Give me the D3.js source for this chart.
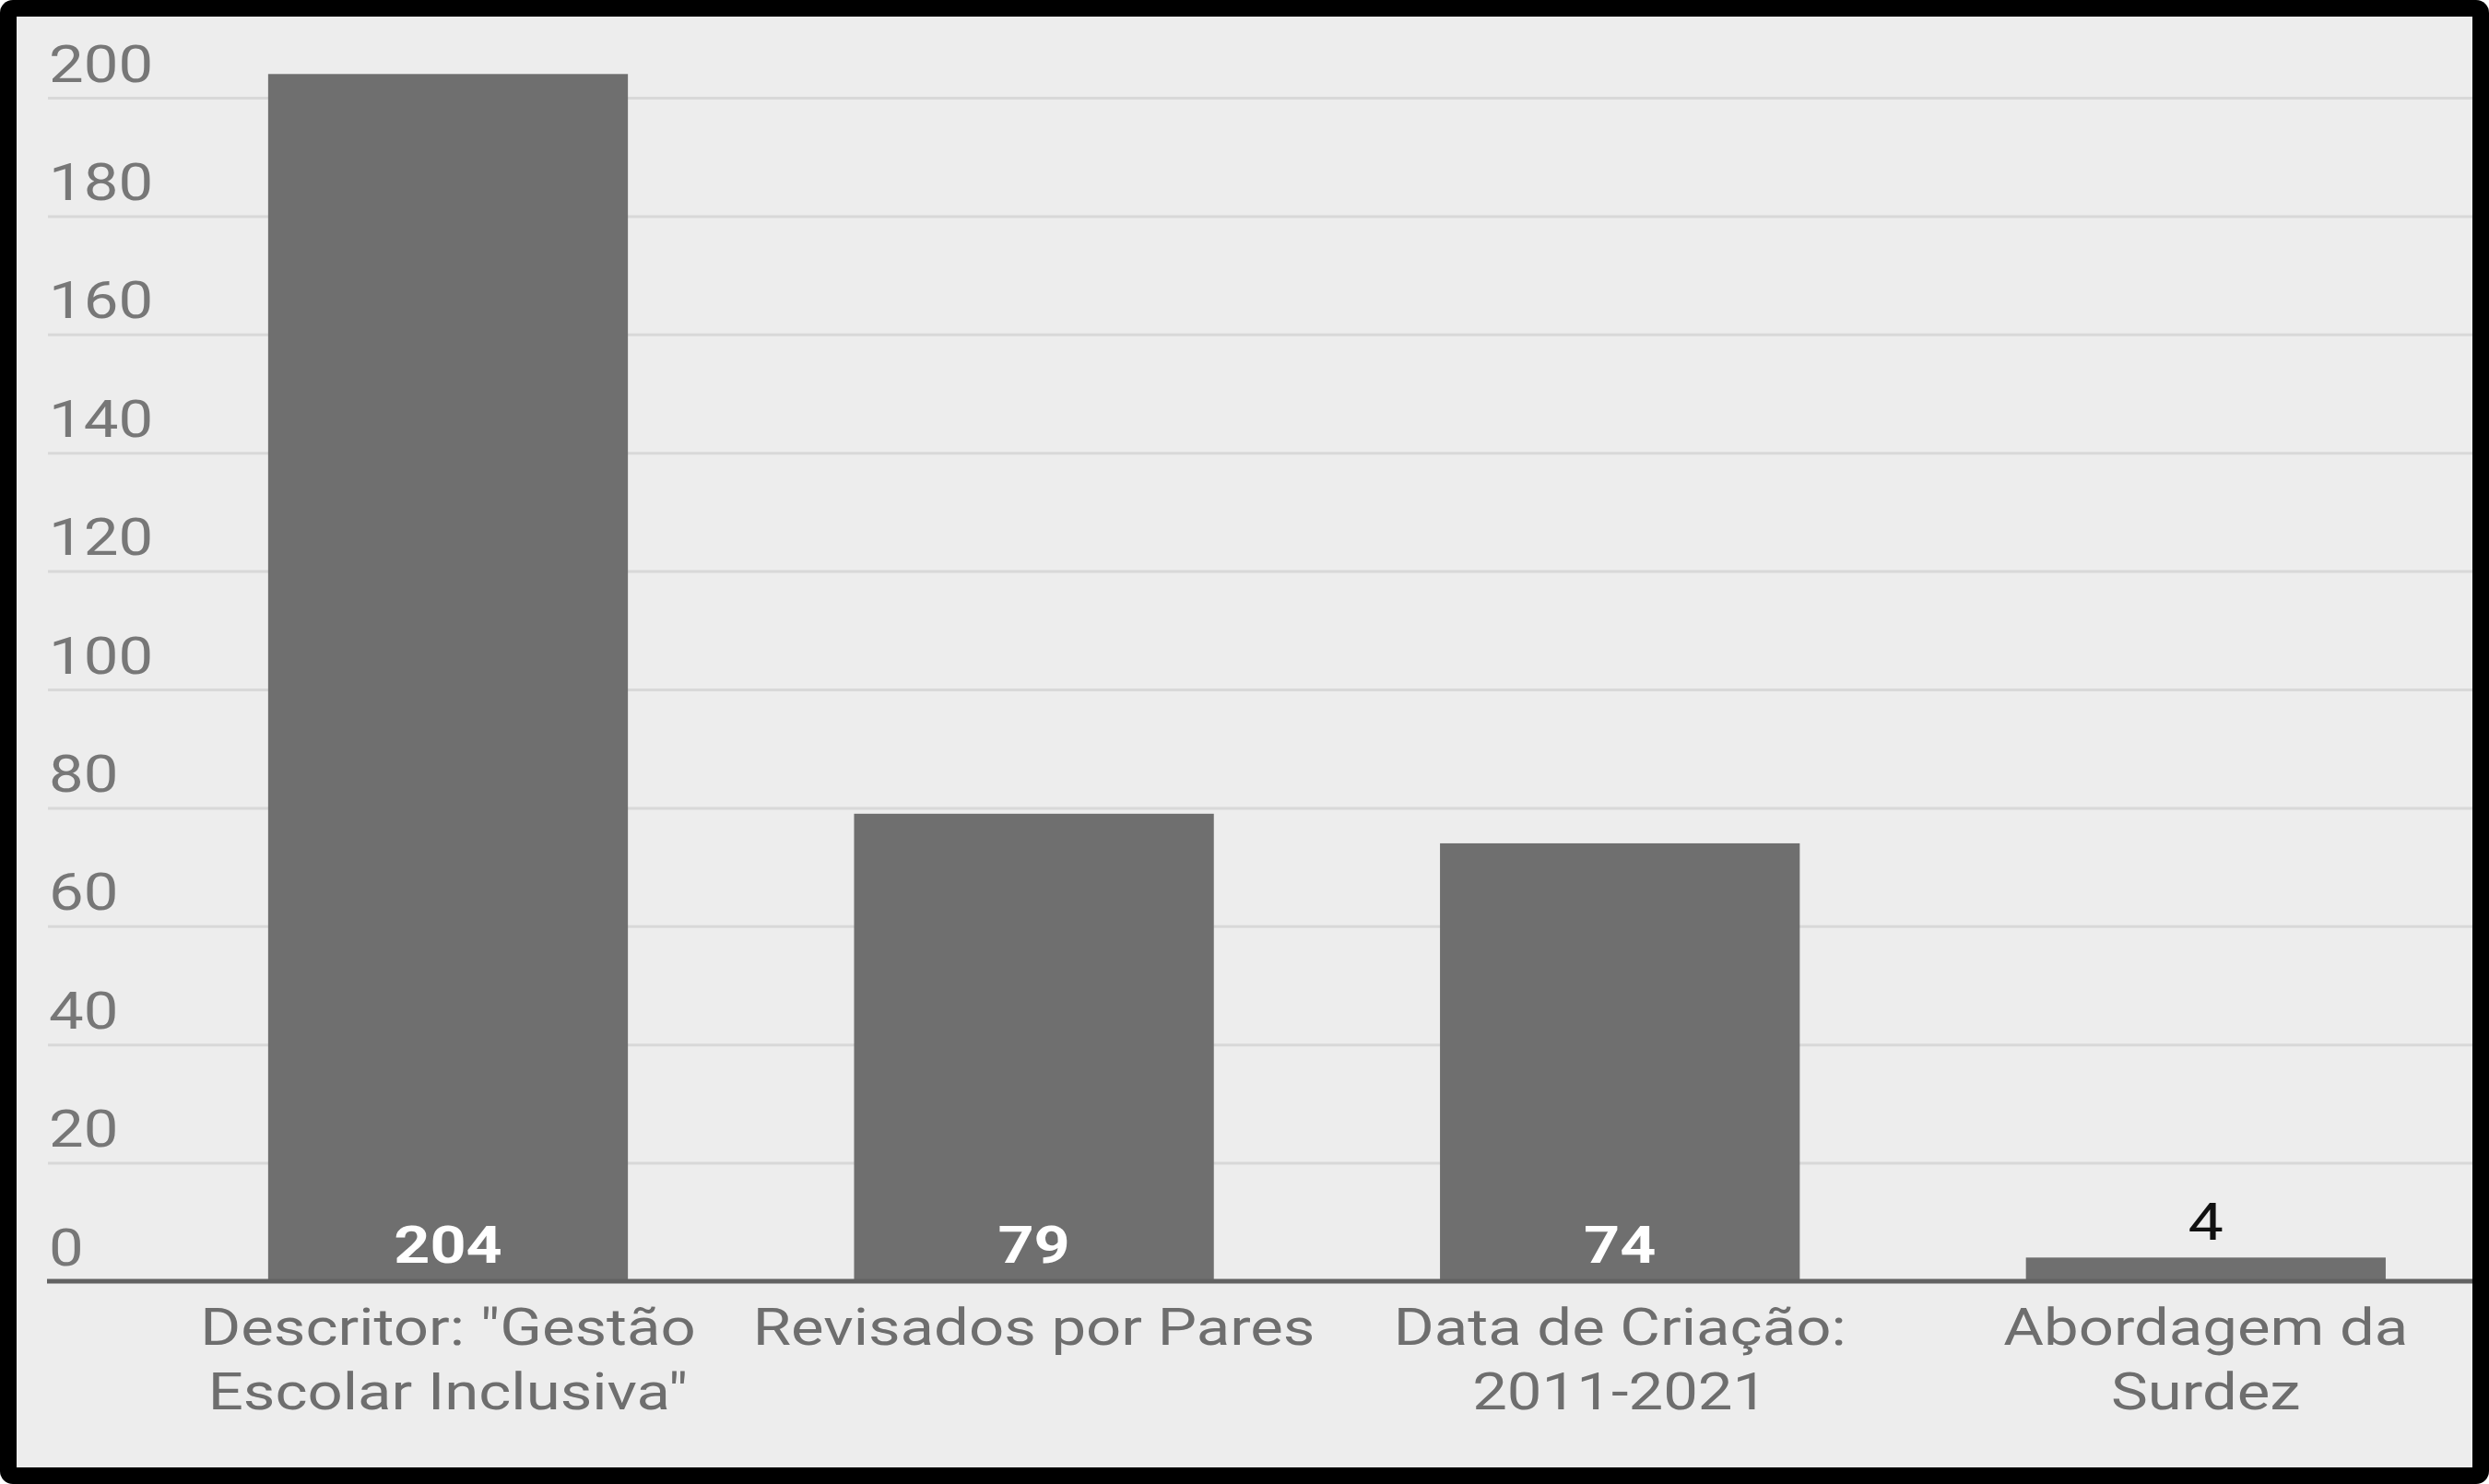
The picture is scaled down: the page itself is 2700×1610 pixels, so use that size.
<!DOCTYPE html>
<html>
<head>
<meta charset="utf-8">
<script src="https://cdn.jsdelivr.net/npm/d3@7"></script>
<style>
  html, body { margin: 0; padding: 0; background: #fff; }
  svg { display: block; }
  text { font-family: Roboto, "Noto Sans", sans-serif; }
</style>
</head>
<body>
<div id="chart"></div>
<script>
// data
var categories = ['Descritor: "Gestão\nEscolar Inclusiva"', 'Revisados por Pares', 'Data de Criação:\n2011-2021', 'Abordagem da\nSurdez'];
var values = [204, 79, 74, 4];
var yTicks = [0, 20, 40, 60, 80, 100, 120, 140, 160, 180, 200];

var W = 2700, H = 1610;
var frame = 18;
var plot = {left: 52, right: 2682, top: 106, bottom: 1390};
var stretch = 1.22; // glyphs in the picture are wider than Roboto

var svg = d3.select("#chart").append("svg")
    .attr("width", W)
    .attr("height", H);

// black frame + light panel
svg.append("rect")
    .attr("width", W).attr("height", H)
    .attr("rx", 14)
    .attr("fill", "#000");
svg.append("rect")
    .attr("x", frame).attr("y", frame)
    .attr("width", W - 2 * frame).attr("height", H - 2 * frame)
    .attr("fill", "#ededed");

var x = d3.scaleBand()
    .domain(categories)
    .range([168.2, 2710.6])
    .paddingInner(0.386)
    .paddingOuter(0.193);
var y = d3.scaleLinear()
    .domain([0, 200])
    .range([plot.bottom, plot.top]);

// gridlines and tick labels
var yAxis = d3.axisRight(y)
    .tickValues(yTicks)
    .tickSize(plot.right - plot.left)
    .tickFormat(d3.format("d"));

var gy = svg.append("g")
    .attr("transform", "translate(" + plot.left + ",0)")
    .call(yAxis);
gy.select(".domain").remove();
gy.selectAll(".tick line")
    .attr("stroke", "#d8d8d8")
    .attr("stroke-width", 3);
gy.selectAll(".tick text")
    .attr("x", null).attr("dy", null)
    .attr("text-anchor", "start")
    .attr("transform", "translate(1,-18) scale(" + stretch + ",1)")
    .attr("fill", "#777")
    .style("font-size", "55px");

// bars
svg.selectAll(".bar")
    .data(values)
  .enter().append("rect")
    .attr("class", "bar")
    .attr("x", (d, i) => x(categories[i]))
    .attr("y", (d) => y(d))
    .attr("width", x.bandwidth())
    .attr("height", (d) => y(0) - y(d))
    .attr("fill", "#6f6f6f");

// baseline
svg.append("line")
    .attr("x1", plot.left - 1).attr("x2", plot.right)
    .attr("y1", y(0)).attr("y2", y(0))
    .attr("stroke", "#626262")
    .attr("stroke-width", 5);

// value labels: white inside tall bars, dark above short ones
var inside = (d) => y(0) - y(d) > 70;
svg.selectAll(".value")
    .data(values)
  .enter().append("text")
    .attr("class", "value")
    .attr("text-anchor", "middle")
    .attr("transform", (d, i) => {
      var cx = x(categories[i]) + x.bandwidth() / 2;
      var cy = inside(d) ? y(0) - 20 : y(d) - 19;
      return "translate(" + cx + "," + cy + ") scale(" + stretch + ",1)";
    })
    .attr("fill", (d) => inside(d) ? "#fff" : "#111")
    .style("font-weight", (d) => inside(d) ? 700 : 400)
    .style("font-size", "56px")
    .text((d) => d);

// category labels
var xAxis = d3.axisBottom(x).tickSize(0).tickFormat("");
var gx = svg.append("g")
    .attr("transform", "translate(0," + plot.bottom + ")")
    .call(xAxis);
gx.select(".domain").remove();
gx.selectAll(".tick").each(function(d) {
  var t = d3.select(this).append("text")
      .attr("text-anchor", "middle")
      .attr("fill", "#6e6e6e")
      .attr("transform", "translate(0,69) scale(" + stretch + ",1)")
      .style("font-size", "55px");
  d.split("\n").forEach((line, k) => {
    t.append("tspan").attr("x", 0).attr("y", k * 70).text(line);
  });
});
</script>
</body>
</html>
